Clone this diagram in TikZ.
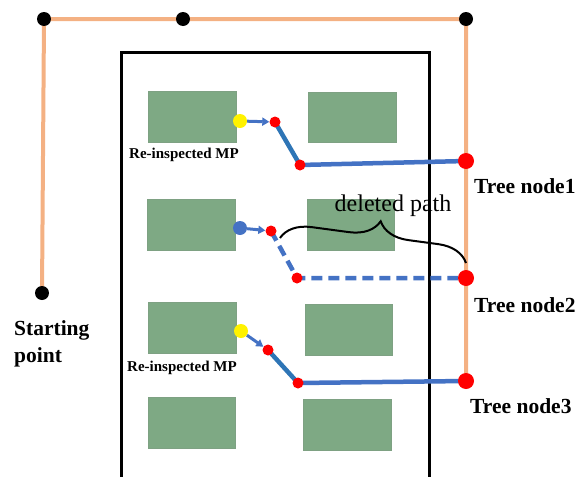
\documentclass[tikz,border=0pt]{standalone}
\usepackage{fontspec}
\setmainfont{Liberation Serif}
\usetikzlibrary{arrows.meta,decorations.pathreplacing}
\definecolor{pathorange}{RGB}{244,177,131}
\definecolor{mpgreen}{RGB}{126,169,132}
\definecolor{routeblue}{RGB}{68,114,196}
\definecolor{steelseg}{RGB}{46,117,182}
\pgfdeclarelayer{back}
\pgfdeclarelayer{lines}
\pgfsetlayers{back,lines,main}
\tikzset{
  blackdot/.style={circle,fill=black,inner sep=0pt,minimum size=14pt},
  treedot/.style={circle,fill=red,inner sep=0pt,minimum size=16pt},
  reddot/.style={circle,fill=red,inner sep=0pt,minimum size=11pt},
  yellowdot/.style={circle,fill=yellow,inner sep=0pt,minimum size=14pt},
  bluedot/.style={circle,fill=routeblue,inner sep=0pt,minimum size=14pt},
  mpbox/.style={fill=mpgreen,draw=mpgreen!80!gray,line width=0.6pt},
  tour/.style={pathorange,line width=4pt},
  hop/.style={routeblue,line width=3pt,-{Triangle[length=7pt,width=8pt]}},
  slope/.style={steelseg,line width=4.5pt},
  level/.style={routeblue,line width=4.5pt},
  deleted/.style={routeblue,line width=4.5pt,dash pattern=on 11pt off 6pt},
  bigbold/.style={font=\bfseries\fontsize{21.5}{27}\selectfont,inner sep=0pt},
  smallbold/.style={font=\bfseries\fontsize{15}{18}\selectfont,inner sep=0pt},
}
\begin{document}
\begin{tikzpicture}[x=1pt,y=-1pt]
\useasboundingbox (0,0) rectangle (579,477);

% field outline and measurement plots
\begin{pgfonlayer}{back}
  \draw[line width=3pt,line cap=butt] (121,477) -- (121,52) -- (429,52) -- (429,477);
  \path[mpbox] (148,91) rectangle (236,142);
  \path[mpbox] (308,92) rectangle (396,142);
  \path[mpbox] (147,199) rectangle (235,250);
  \path[mpbox] (307,199) rectangle (394,250);
  \path[mpbox] (148,302) rectangle (236,353);
  \path[mpbox] (305,304) rectangle (392,355);
  \path[mpbox] (148,397) rectangle (235,448);
  \path[mpbox] (303,399) rectangle (391,450);
\end{pgfonlayer}

% tour nodes
\node[blackdot] (b1) at (44,19) {};
\node[blackdot] (b2) at (183,19) {};
\node[blackdot] (b3) at (466,19) {};
\node[blackdot] (st) at (42,293) {};
\node[treedot] (t1) at (466,161) {};
\node[treedot] (t2) at (466,278) {};
\node[treedot] (t3) at (466,381) {};

% branch nodes
\node[yellowdot] (y1) at (240,121) {};
\node[reddot] (r1a) at (275,122) {};
\node[reddot] (r1b) at (300,165) {};
\node[bluedot] (u2) at (240,228) {};
\node[reddot] (r2a) at (271,231) {};
\node[reddot] (r2b) at (297,278) {};
\node[yellowdot] (y3) at (241,331) {};
\node[reddot] (r3a) at (268,350) {};
\node[reddot] (r3b) at (298,383) {};

\begin{pgfonlayer}{lines}
  \draw[tour] (st.center) -- (b1.center) -- (b2.center) -- (b3.center) -- (t1.center) -- (t2.center) -- (t3.center);
  \draw[hop] (y1) -- (r1a);
  \draw[slope] (r1a.center) -- (r1b.center);
  \draw[level] (r1b.center) -- (t1.center);
  \draw[hop] (u2) -- (r2a);
  \draw[deleted] (r2a.center) -- (r2b.center) -- (t2.center);
  \draw[hop] (y3) -- (r3a);
  \draw[slope] (r3a.center) -- (r3b.center);
  \draw[level] (r3b.center) -- (t3.center);
\end{pgfonlayer}

% brace over the removed branch
\coordinate (bl) at (280,238);
\coordinate (br) at (466,263);
\draw[line width=2pt,decorate,decoration={brace,amplitude=30pt,aspect=0.52}] (bl) -- (br);
\node[font=\fontsize{24}{27}\selectfont,inner sep=0pt,anchor=base] (del) at (393,211) {deleted path};

% labels
\node[smallbold,anchor=base] (m1) at (184,158) {Re-inspected MP};
\node[smallbold,anchor=base] (m3) at (182,371) {Re-inspected MP};
\node[bigbold,anchor=base west] (l1) at (474,193) {Tree node1};
\node[bigbold,anchor=base west] (l2) at (474,312) {Tree node2};
\node[bigbold,anchor=base west] (l3) at (470,413) {Tree node3};
\node[bigbold,anchor=base west,align=left] (ls) at (14,362) {Starting\\point};
\end{tikzpicture}
\end{document}
